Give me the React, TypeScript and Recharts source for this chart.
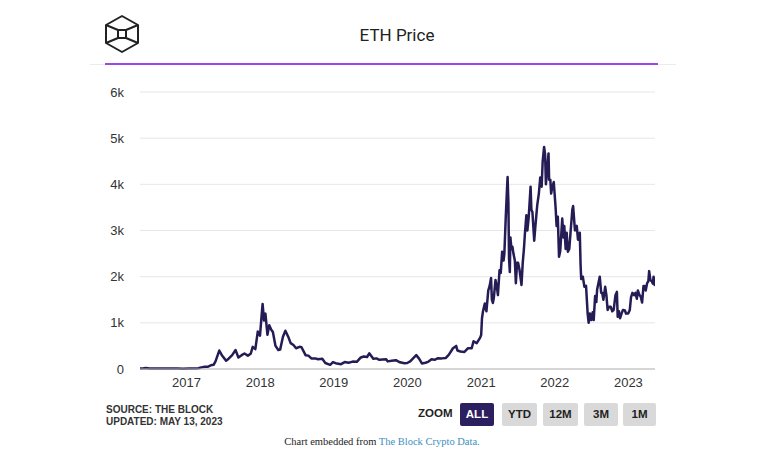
import { LineChart, Line, XAxis, YAxis, CartesianGrid } from 'recharts';

// ETH price (USD)
const dates = [
  '2016-05-15', '2016-06-01', '2016-06-15', '2016-07-01', '2016-07-15', '2016-08-15', '2016-09-15', '2016-10-15',
  '2016-11-15', '2016-12-15',
  '2017-01-15', '2017-02-15', '2017-03-01', '2017-03-15', '2017-04-01', '2017-04-15', '2017-05-01', '2017-05-15',
  '2017-05-25', '2017-06-12', '2017-06-25', '2017-07-16', '2017-07-25', '2017-08-15', '2017-09-01', '2017-09-15',
  '2017-10-01', '2017-10-15', '2017-11-01', '2017-11-15', '2017-11-25', '2017-12-08', '2017-12-20', '2017-12-31',
  '2018-01-08', '2018-01-13', '2018-01-20', '2018-01-27', '2018-02-06', '2018-02-15', '2018-02-25', '2018-03-05',
  '2018-03-18', '2018-04-01', '2018-04-10', '2018-04-24', '2018-05-06', '2018-05-20', '2018-06-01', '2018-06-15',
  '2018-06-28', '2018-07-15', '2018-07-25', '2018-08-14', '2018-08-28', '2018-09-12', '2018-10-01', '2018-10-15',
  '2018-11-05', '2018-11-20', '2018-12-14', '2018-12-28',
  '2019-01-10', '2019-02-06', '2019-02-24', '2019-03-15', '2019-04-05', '2019-04-25', '2019-05-15', '2019-05-30',
  '2019-06-15', '2019-06-26', '2019-07-16', '2019-08-01', '2019-08-15', '2019-09-18', '2019-09-25', '2019-10-15',
  '2019-11-05', '2019-11-25', '2019-12-18', '2019-12-31',
  '2020-01-15', '2020-02-14', '2020-02-28', '2020-03-13', '2020-03-31', '2020-04-15', '2020-04-30', '2020-05-15',
  '2020-06-01', '2020-06-20', '2020-07-10', '2020-07-25', '2020-08-14', '2020-08-30', '2020-09-05', '2020-09-20',
  '2020-10-10', '2020-10-28', '2020-11-15', '2020-11-24', '2020-12-10', '2020-12-27',
  '2021-01-01', '2021-01-05', '2021-01-10', '2021-01-19', '2021-01-27', '2021-02-05', '2021-02-12', '2021-02-19',
  '2021-02-23', '2021-02-28', '2021-03-05', '2021-03-13', '2021-03-19', '2021-03-25', '2021-04-02', '2021-04-08',
  '2021-04-15', '2021-04-22', '2021-04-26', '2021-05-03', '2021-05-09', '2021-05-12', '2021-05-16', '2021-05-19',
  '2021-05-23', '2021-05-26', '2021-05-31', '2021-06-05', '2021-06-10', '2021-06-17', '2021-06-22', '2021-06-28',
  '2021-07-03', '2021-07-10', '2021-07-20', '2021-07-26', '2021-08-01', '2021-08-06', '2021-08-13', '2021-08-18',
  '2021-08-24', '2021-09-03', '2021-09-07', '2021-09-12', '2021-09-21', '2021-09-26', '2021-10-01', '2021-10-06',
  '2021-10-14', '2021-10-21', '2021-10-28', '2021-11-02', '2021-11-09', '2021-11-14', '2021-11-18', '2021-11-24',
  '2021-12-01', '2021-12-04', '2021-12-10', '2021-12-14', '2021-12-20', '2021-12-27',
  '2022-01-05', '2022-01-10', '2022-01-16', '2022-01-22', '2022-01-28', '2022-02-07', '2022-02-13', '2022-02-17',
  '2022-02-24', '2022-03-01', '2022-03-07', '2022-03-14', '2022-03-20', '2022-03-29', '2022-04-02', '2022-04-11',
  '2022-04-20', '2022-04-26', '2022-05-05', '2022-05-09', '2022-05-12', '2022-05-20', '2022-05-28', '2022-06-05',
  '2022-06-13', '2022-06-18', '2022-06-24', '2022-07-01', '2022-07-08', '2022-07-13', '2022-07-20', '2022-07-26',
  '2022-07-30', '2022-08-12', '2022-08-19', '2022-08-24', '2022-08-30', '2022-09-08', '2022-09-14', '2022-09-20',
  '2022-09-27', '2022-10-05', '2022-10-13', '2022-10-20', '2022-10-29', '2022-11-05', '2022-11-09', '2022-11-15',
  '2022-11-21', '2022-11-28', '2022-12-05', '2022-12-15', '2022-12-20', '2022-12-31',
  '2023-01-08', '2023-01-14', '2023-01-21', '2023-01-29', '2023-02-05', '2023-02-12', '2023-02-17', '2023-02-25',
  '2023-03-03', '2023-03-10', '2023-03-17', '2023-03-22', '2023-03-28', '2023-04-04', '2023-04-10', '2023-04-14',
  '2023-04-20', '2023-04-27', '2023-05-02', '2023-05-06', '2023-05-10', '2023-05-13',
];

const prices = [
  13, 14, 20, 12, 12, 11, 12, 12,
  10, 8,
  10, 13, 16, 35, 50, 48, 80, 90,
  170, 400, 300, 180, 210, 300, 410, 250,
  300, 335, 290, 330, 480, 430, 810, 720,
  1150, 1410, 1050, 1200, 740, 950, 850, 800,
  500, 410, 420, 700, 830, 700, 560, 520,
  450, 480, 470, 300, 290, 230, 230, 210,
  220, 130, 90, 150,
  125, 105, 150, 135, 160, 155, 250, 270,
  260, 340, 220, 230, 200, 210, 165, 180,
  190, 145, 125, 130,
  165, 300, 225, 120, 135, 160, 210, 200,
  235, 230, 240, 310, 450, 500, 400, 380,
  370, 450, 450, 600, 560, 680,
  740, 1100, 1250, 1420, 1250, 1700, 1800, 1970,
  1500, 1430, 1550, 1930, 1800, 1600, 2140, 2080,
  2540, 2350, 2500, 3300, 3900, 4160, 3600, 2400,
  2100, 2850, 2600, 2650, 2500, 2350, 1860, 2300,
  2300, 2150, 1820, 2300, 2600, 2940, 3330, 3000,
  3250, 3950, 3450, 3400, 2780, 3050, 3300, 3550,
  3800, 4150, 3950, 4500, 4810, 4650, 4000, 4300,
  4670, 4100, 4100, 3800, 3950, 4050,
  3500, 3100, 3300, 2430, 2550, 3260, 2850, 3100,
  2600, 2950, 2540, 2600, 2950, 3450, 3530, 3000,
  3100, 2800, 2950, 2250, 1950, 2000, 1780, 1800,
  1200, 1000, 1200, 1060, 1230, 1060, 1580, 1450,
  1720, 2000, 1650, 1650, 1500, 1780, 1600, 1280,
  1350, 1350, 1250, 1280, 1600, 1670, 1130, 1250,
  1100, 1200, 1280, 1270, 1200, 1200,
  1280, 1550, 1650, 1600, 1650, 1520, 1700, 1600,
  1570, 1440, 1800, 1800, 1700, 1860, 1900, 2120,
  1930, 1900, 1850, 2000, 1840, 1800,
];

const yearTicks = ['2017', '2018', '2019', '2020', '2021', '2022', '2023'];
const priceTicks = [0, 1000, 2000, 3000, 4000, 5000, 6000];
const zoomButtons = ['ALL', 'YTD', '12M', '3M', '1M'];

const ts = (d: string) => new Date(d + 'T00:00:00Z').getTime();

const data = dates.map((d, i) => ({ t: ts(d), price: prices[i] }));
const xTicks = yearTicks.map((y) => ts(y + '-01-01'));

const sans = 'Arial, "Liberation Sans", sans-serif';

function Logo() {
  return (
    <svg width={40} height={40} style={{ position: 'absolute', left: 102, top: 14 }} viewBox="0 0 40 40">
      <g fill="none" stroke="#222" strokeWidth={2} strokeLinejoin="round">
        <polygon points="20,2 36,11 36,29 20,38 4,29 4,11" />
        <polygon points="16,16 24,16 24,24 16,24" />
        <line x1={4} y1={11} x2={16} y2={16} />
        <line x1={36} y1={11} x2={24} y2={16} />
        <line x1={4} y1={29} x2={16} y2={24} />
        <line x1={36} y1={29} x2={24} y2={24} />
      </g>
    </svg>
  );
}

export default function App() {
  return (
    <div style={{ position: 'absolute', left: 0, top: 0, width: 768, height: 463, background: '#fff', fontFamily: sans }}>
      <Logo />
      <div style={{ position: 'absolute', left: 0, width: 794, top: 25, textAlign: 'center', fontSize: 17, color: '#222', fontFamily: 'Roboto, Arial, sans-serif' }}>
        ETH Price
      </div>
      <div style={{ position: 'absolute', left: 90, top: 64, width: 586, height: 1, background: '#ececec' }} />
      <div style={{ position: 'absolute', left: 105, top: 63, width: 553, height: 2, background: '#a245e6' }} />

      <div style={{ position: 'absolute', left: 0, top: 0 }}>
        <LineChart width={768} height={420} data={data} margin={{ top: 92, right: 113, bottom: 21, left: 0 }}>
          <CartesianGrid vertical={false} stroke="#e6e6e6" />
          <XAxis
            dataKey="t"
            type="number"
            scale="time"
            domain={[data[0].t, data[data.length - 1].t]}
            ticks={xTicks}
            tickFormatter={(v: number) => String(new Date(v).getUTCFullYear())}
            tickLine={false}
            axisLine={{ stroke: '#b8b8b8' }}
            tick={{ fill: '#333', fontSize: 13 }}
            tickMargin={3}
            height={30}
            allowDataOverflow
          />
          <YAxis
            domain={[0, 6000]}
            ticks={priceTicks}
            tickFormatter={(v: number) => (v === 0 ? '0' : v / 1000 + 'k')}
            tickLine={false}
            axisLine={false}
            tick={{ fill: '#333', fontSize: 13 }}
            tickMargin={10}
            width={140}
          />
          <Line
            type="linear"
            dataKey="price"
            stroke="#251c55"
            strokeWidth={2.5}
            strokeLinejoin="round"
            dot={false}
            isAnimationActive={false}
          />
        </LineChart>
      </div>

      <div style={{ position: 'absolute', left: 106, top: 404, fontSize: 10, fontWeight: 'bold', color: '#333', lineHeight: '12px' }}>
        <div>SOURCE: THE BLOCK</div>
        <div>UPDATED: MAY 13, 2023</div>
      </div>

      <div style={{ position: 'absolute', left: 418, top: 407, fontSize: 11.5, fontWeight: 'bold', color: '#222' }}>ZOOM</div>
      {zoomButtons.map((b, i) => {
        const lefts = [460, 502, 543, 584, 623];
        const widths = [34, 35, 35, 34, 33];
        const active = i === 0;
        return (
          <div
            key={b}
            style={{
              position: 'absolute',
              left: lefts[i],
              top: 403,
              width: widths[i],
              height: 23,
              lineHeight: '23px',
              textAlign: 'center',
              fontSize: 11.5,
              fontWeight: 'bold',
              borderRadius: 2,
              background: active ? '#2b1f5f' : '#d9d9d9',
              color: active ? '#fff' : '#222',
            }}
          >
            {b}
          </div>
        );
      })}

      <div style={{ position: 'absolute', left: 0, width: 764, top: 436, textAlign: 'center', fontSize: 10.5, fontFamily: '"Liberation Serif", "Times New Roman", serif', color: '#222' }}>
        Chart embedded from <span style={{ color: '#3a8fbf' }}>The Block Crypto Data.</span>
      </div>
    </div>
  );
}
